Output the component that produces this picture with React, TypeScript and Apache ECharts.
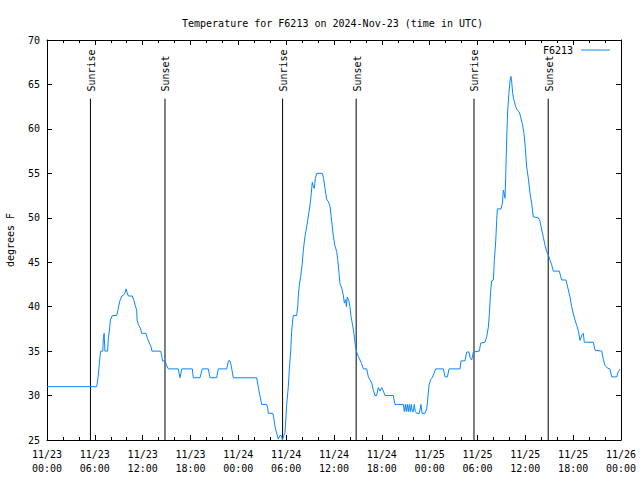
import React, { useEffect, useRef } from "react";
import * as echarts from "echarts";

// hours since 2024-11-23 00:00 UTC
const hours: number[] = [
  0, 6.23, 6.4, 6.55, 6.65, 6.73, 7.0, 7.07, 7.17, 7.26, 7.6, 7.7, 7.85, 7.95, 8.2, 8.74, 8.9, 9.0, 9.16, 9.4, 9.7, 9.8, 9.91, 10.05, 10.2, 10.7, 10.9, 11.05, 11.25, 11.3, 11.45, 11.75, 11.87, 12.42, 12.6, 12.8, 13.05, 13.17, 14.26, 14.4, 14.5, 14.8, 15.0, 15.22, 16.47, 16.68, 16.9, 18.23, 18.35, 19.19, 19.48, 20.23, 20.45, 21.28, 21.49, 22.54, 22.65, 22.75, 22.96, 23.1, 23.37,
  26.3, 26.5, 26.7, 26.93, 27.56, 27.7, 27.76, 28.31, 28.45, 28.6, 28.8, 29.02, 29.2, 29.4, 29.52, 29.7, 29.85, 30.06, 30.27, 30.4, 30.57, 30.69, 30.82, 30.9, 31.32, 31.45, 31.53, 31.65, 31.82, 32.0, 32.16, 32.3, 32.49, 32.7, 32.87, 33.05, 33.2, 33.28, 33.37, 33.53, 33.66, 33.83, 34.54, 34.7, 34.87, 35.08, 35.3, 35.5, 35.71, 35.92, 36.13, 36.34, 36.46, 36.63, 36.75, 36.96, 37.17, 37.3, 37.47, 37.55, 37.67, 37.88, 38.0, 38.13, 38.3, 38.5, 38.67, 38.84, 39.05, 39.26, 39.45, 39.68, 40.1, 40.31, 40.5, 40.73, 40.94, 41.14, 41.35, 41.56, 41.77, 41.98, 42.19, 42.4, 43.44, 43.65, 44.7, 44.82, 44.95, 45.07, 45.2, 45.32, 45.45, 45.57, 45.7, 45.82, 45.95, 46.07, 46.2, 46.37, 46.7, 46.91, 47.05, 47.41, 47.63, 47.75, 47.92, 48.13, 48.33, 48.54, 48.76, 49.72, 49.93, 50.22, 50.43, 51.81, 51.93, 52.43, 52.64, 52.93, 53.06, 53.27, 53.48,
  54.23, 54.4, 54.94, 55.15, 55.36, 55.49, 55.66, 55.78, 55.99, 56.11, 56.28, 56.41, 56.49, 56.95, 57.12, 57.24, 57.36, 57.45, 57.53, 57.66, 57.79, 57.95, 58.08, 58.2, 58.29, 58.41, 58.58, 58.79, 59.0, 59.25, 59.42, 59.62, 59.83, 59.96, 60.17, 60.38, 60.59, 60.8, 61.0, 61.63, 61.84, 61.97, 62.26, 62.47, 62.68, 62.89, 63.1, 63.31, 63.51, 64.26, 64.56, 65.1, 65.31, 65.6, 65.81, 66.02, 66.23, 66.44, 66.65, 66.86, 67.07, 67.27, 67.4, 68.53, 68.74, 69.58, 69.78, 69.99, 70.28, 70.62, 70.83, 71.46, 71.67, 71.88,
];

// degrees F
const temps: number[] = [
  31, 31, 32, 33.4, 34.4, 35, 35, 36.5, 37, 35, 35, 36.5, 37.5, 38.5, 39, 39, 39.6, 40.1, 40.7, 41.2, 41.4, 41.6, 42, 41.6, 41.2, 41.2, 40.7, 40.2, 39.6, 38.5, 38, 37.5, 37, 37, 36.4, 36, 35.5, 35, 35, 34.4, 33.9, 33.9, 33.4, 33, 33, 32, 33, 33, 32, 32, 33, 33, 32, 32, 33, 33, 33.4, 33.9, 33.9, 33.4, 32,
  32, 31, 30, 29, 29, 28.5, 28, 28, 27.5, 26.5, 25.8, 25.1, 25.5, 25.5, 25, 25.5, 25.8, 28.9, 31, 33, 35, 37.2, 38.5, 39, 39, 40, 41.3, 42.4, 43.4, 44.7, 46.4, 47.5, 48.6, 49.7, 50.7, 51.8, 53.3, 54, 53.6, 53.3, 54.4, 55, 55, 54.4, 53.3, 52.1, 51.8, 51.3, 49.6, 47.9, 46.8, 46.2, 45.3, 43.8, 42.6, 42.1, 41.3, 40.4, 40.8, 40, 41.1, 40.6, 40, 38.9, 38.1, 37, 35.7, 34.9, 34.4, 34, 33.6, 33, 33, 32.1, 31.8, 31.4, 30.6, 30, 30, 30.9, 30.5, 30.9, 30.5, 30, 30, 29, 29, 28.2, 29, 28.2, 29, 28.2, 29, 28.2, 29, 28.2, 28.2, 29, 28.2, 28, 28, 29, 28, 28, 28.5, 29.5, 31.2, 31.8, 32, 32.5, 33, 33, 32.1, 32.1, 33, 33, 33.9, 33.9, 34.9, 34.9, 34.3, 34, 34.9,
  35, 35.9, 36, 36.6, 37.7, 39.2, 41.9, 42.9, 43, 45.2, 47.3, 49.7, 51, 51, 51.6, 53.1, 52.7, 52.2, 54.4, 58.9, 62.1, 64.1, 65.4, 65.9, 65.3, 64, 63.2, 62.5, 62.1, 61.9, 61.3, 60.6, 59.5, 58.3, 55.7, 54.4, 52.7, 51.6, 50.1, 50, 49.6, 49, 47.8, 46.9, 46.2, 45.8, 45.2, 44.7, 44, 44, 43, 43, 42.2, 41.1, 40, 39.2, 38.5, 37.9, 37.3, 36.2, 36.8, 37, 36, 36, 35.1, 35, 34.1, 33.4, 33.1, 33, 32.1, 32.1, 32.7, 33,
];

const sunHours: number[] = [5.45, 14.8, 29.55, 38.78, 53.56, 62.87];
const sunLabels: string[] = ["Sunrise", "Sunset", "Sunrise", "Sunset", "Sunrise", "Sunset"];

const xTicks: number[] = [0, 6, 12, 18, 24, 30, 36, 42, 48, 54, 60, 66, 72];
const yTicks: number[] = [25, 30, 35, 40, 45, 50, 55, 60, 65, 70];

const FONT = "DejaVu Sans Mono";
const LINE_COLOR = "#0a86ff";

function fmtX(v: number): string {
  const d = 23 + Math.floor(v / 24);
  const h = v % 24;
  return `11/${d}\n${String(h).padStart(2, "0")}:00`;
}

export default function App() {
  const ref = useRef<HTMLDivElement>(null);
  useEffect(() => {
    if (!ref.current) return;
    const chart = echarts.init(ref.current, null, { renderer: "svg" });
    const data = hours.map((h, i) => [h, temps[i]]);
    const sunData = sunHours.map((h, i) => [h, sunLabels[i]]);
    const xMin = xTicks[0];
    const xMax = xTicks[xTicks.length - 1];
    const yMin = yTicks[0];
    const yMax = yTicks[yTicks.length - 1];
    const axisCommonX = {
      type: "value",
      min: xMin,
      max: xMax,
      interval: 6,
      axisLine: { show: true, onZero: false, lineStyle: { color: "#000", width: 1 } },
      axisTick: { show: true, inside: true, length: 5, lineStyle: { color: "#000" } },
      minorTick: { show: true, splitNumber: 3, length: 3, lineStyle: { color: "#000" } },
      splitLine: { show: false },
      minorSplitLine: { show: false },
    };
    const axisCommonY = {
      type: "value",
      min: yMin,
      max: yMax,
      interval: 5,
      axisLine: { show: true, onZero: false, lineStyle: { color: "#000", width: 1 } },
      axisTick: { show: true, inside: true, length: 5, lineStyle: { color: "#000" } },
      splitLine: { show: false },
    };
    chart.setOption({
      animation: false,
      backgroundColor: "#fff",
      title: {
        text: "Temperature for F6213 on 2024-Nov-23 (time in UTC)",
        left: 177,
        top: 13,
        textStyle: { fontFamily: FONT, fontSize: 10, fontWeight: "normal", color: "#000" },
      },
      legend: {
        data: [{ name: "F6213", icon: "rect" }],
        right: 25,
        top: 40,
        align: "right",
        itemWidth: 29,
        itemHeight: 1,
        itemGap: 5,
        textStyle: { fontFamily: FONT, fontSize: 10, color: "#000", padding: [0, 3, 0, 0] },
      },
      grid: { left: 47, right: 19, top: 40, bottom: 40, outerBoundsMode: "none", containLabel: false },
      xAxis: [
        {
          ...axisCommonX,
          position: "bottom",
          axisLabel: {
            show: true,
            formatter: fmtX,
            fontFamily: FONT,
            fontSize: 10,
            color: "#000",
            lineHeight: 14,
            margin: 7,
          },
        },
        {
          ...axisCommonX,
          position: "top",
          axisLabel: { show: false },
        },
      ],
      yAxis: [
        {
          ...axisCommonY,
          position: "left",
          name: "degrees F",
          nameLocation: "middle",
          nameRotate: 90,
          nameGap: 32,
          nameTextStyle: { fontFamily: FONT, fontSize: 10, color: "#000" },
          axisLabel: { show: true, fontFamily: FONT, fontSize: 10, color: "#000", margin: 7 },
        },
        {
          ...axisCommonY,
          position: "right",
          axisLabel: { show: false },
        },
      ],
      series: [
        {
          name: "F6213",
          type: "line",
          data,
          showSymbol: false,
          symbol: "none",
          color: LINE_COLOR,
          lineStyle: { color: LINE_COLOR, width: 1 },
          xAxisIndex: 0,
          yAxisIndex: 0,
          z: 3,
        },
        {
          name: "sun",
          type: "custom",
          data: sunData,
          xAxisIndex: 0,
          yAxisIndex: 0,
          silent: true,
          z: 2,
          renderItem: (params: any, api: any) => {
            const t = api.value(0);
            const label = sunLabels[params.dataIndex];
            const bottom = api.coord([t, yMin]);
            const top = api.coord([t, 63.4]);
            const textPos = api.coord([t, 64.2]);
            return {
              type: "group",
              children: [
                {
                  type: "line",
                  shape: { x1: bottom[0], y1: bottom[1], x2: top[0], y2: top[1] },
                  style: { stroke: "#000", lineWidth: 1 },
                },
                {
                  type: "text",
                  x: textPos[0] + 1,
                  y: textPos[1],
                  rotation: Math.PI / 2,
                  style: {
                    text: label,
                    fill: "#000",
                    fontFamily: FONT,
                    fontSize: 10,
                    align: "left",
                    verticalAlign: "middle",
                  },
                },
              ],
            };
          },
        },
      ],
    });
    return () => chart.dispose();
  }, []);
  return <div ref={ref} style={{ width: 640, height: 480, position: "absolute", left: 0, top: 0 }} />;
}
